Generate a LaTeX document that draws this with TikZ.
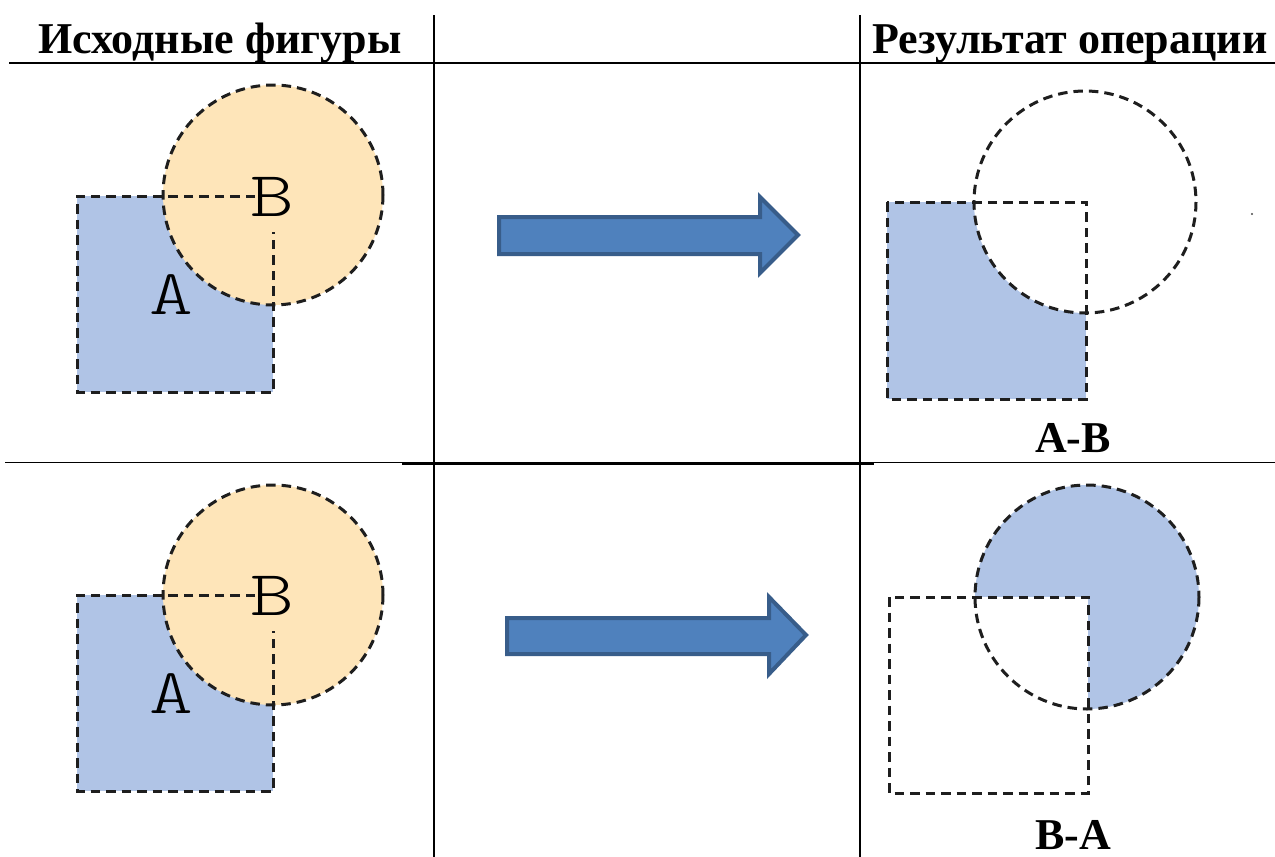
\documentclass[tikz,border=0pt]{standalone}
\usepackage{fontspec}
\setmainfont{Liberation Serif}
\newfontfamily\monofnt{Latin Modern Mono Light}
\definecolor{blueA}{RGB}{176,196,230}
\definecolor{orangeB}{RGB}{254,229,185}
\definecolor{arrfill}{RGB}{79,129,189}
\definecolor{arredge}{RGB}{56,93,138}
\definecolor{dashc}{RGB}{30,30,30}
\tikzset{
  rule/.style={line width=2pt,black},
  dashline/.style={dashc,line width=3pt,dash pattern=on 9.5pt off 6pt},
  header/.style={font=\fontsize{44}{48}\selectfont\bfseries,anchor=base,inner sep=0pt},
  letter/.style={font=\monofnt\fontsize{64}{64}\selectfont,inner sep=0pt,xscale=1.3},
  bigarrow/.style={fill=arrfill,draw=arredge,line width=4pt,line join=miter}
}
\begin{document}
\begin{tikzpicture}[x=1pt,y=-1pt]
\useasboundingbox (0,0) rectangle (1275,857);
\fill[white] (0,0) rectangle (1275,857);
% table rules
\draw[rule] (433.5,15) -- (433.5,857);
\draw[rule] (860,15) -- (860,857);
\draw[rule] (9,63) -- (1275,63);
\draw[rule,line width=1.8pt] (5,462.5) -- (1275,462.5);
\draw[rule,line width=2.6pt] (402,463.5) -- (874,463.5);
% headers
\node[header] (h1) at (220,53) {Исходные фигуры};
\node[header] (h2) at (1070,53) {Результат операции};
% ---------- top-left figure ----------
\fill[blueA] (77,196) rectangle (273,392);
\fill[orangeB] (273,195) circle (110);
\draw[dashline] (273,195) circle (110);
\draw[dashline] (255,196) -- (77,196) -- (77,392) -- (273,392) -- (273,232);
\node[letter] (B1) at (272,197) {B};
\node[letter] (A1) at (171,295) {A};
% ---------- bottom-left figure ----------
\fill[blueA] (77,595) rectangle (273,791);
\fill[orangeB] (273,595) circle (110);
\draw[dashline] (273,595) circle (110);
\draw[dashline] (255,595) -- (77,595) -- (77,791) -- (273,791) -- (273,631);
\node[letter] (B2) at (272,596) {B};
\node[letter] (A2) at (171,694) {A};
% ---------- arrows ----------
\draw[bigarrow] (499,217) -- (760,217) -- (760,197) -- (798,235) -- (760,273) -- (760,254) -- (499,254) -- cycle;
\draw[bigarrow] (507,618) -- (769,618) -- (769,597) -- (806,635) -- (769,674) -- (769,654) -- (507,654) -- cycle;
% ---------- top-right: A-B ----------
\fill[blueA] (887,202) rectangle (1086,399);
\fill[white] (1085,202) circle (111);
\draw[dashline] (887,202) rectangle (1086,399);
\draw[dashline] (1085,202) circle (111);
\fill[black!70] (1252,214) circle (1.2);
\node[header] (r1) at (1073,452) {A-B};
% ---------- bottom-right: B-A ----------
\fill[blueA] (1087,597) circle (112);
\fill[white] (889,597) rectangle (1088,793);
\draw[dashline] (889,597) rectangle (1088,793);
\draw[dashline] (1087,597) circle (112);
\node[header] (r2) at (1073,849) {B-A};
\end{tikzpicture}
\end{document}
